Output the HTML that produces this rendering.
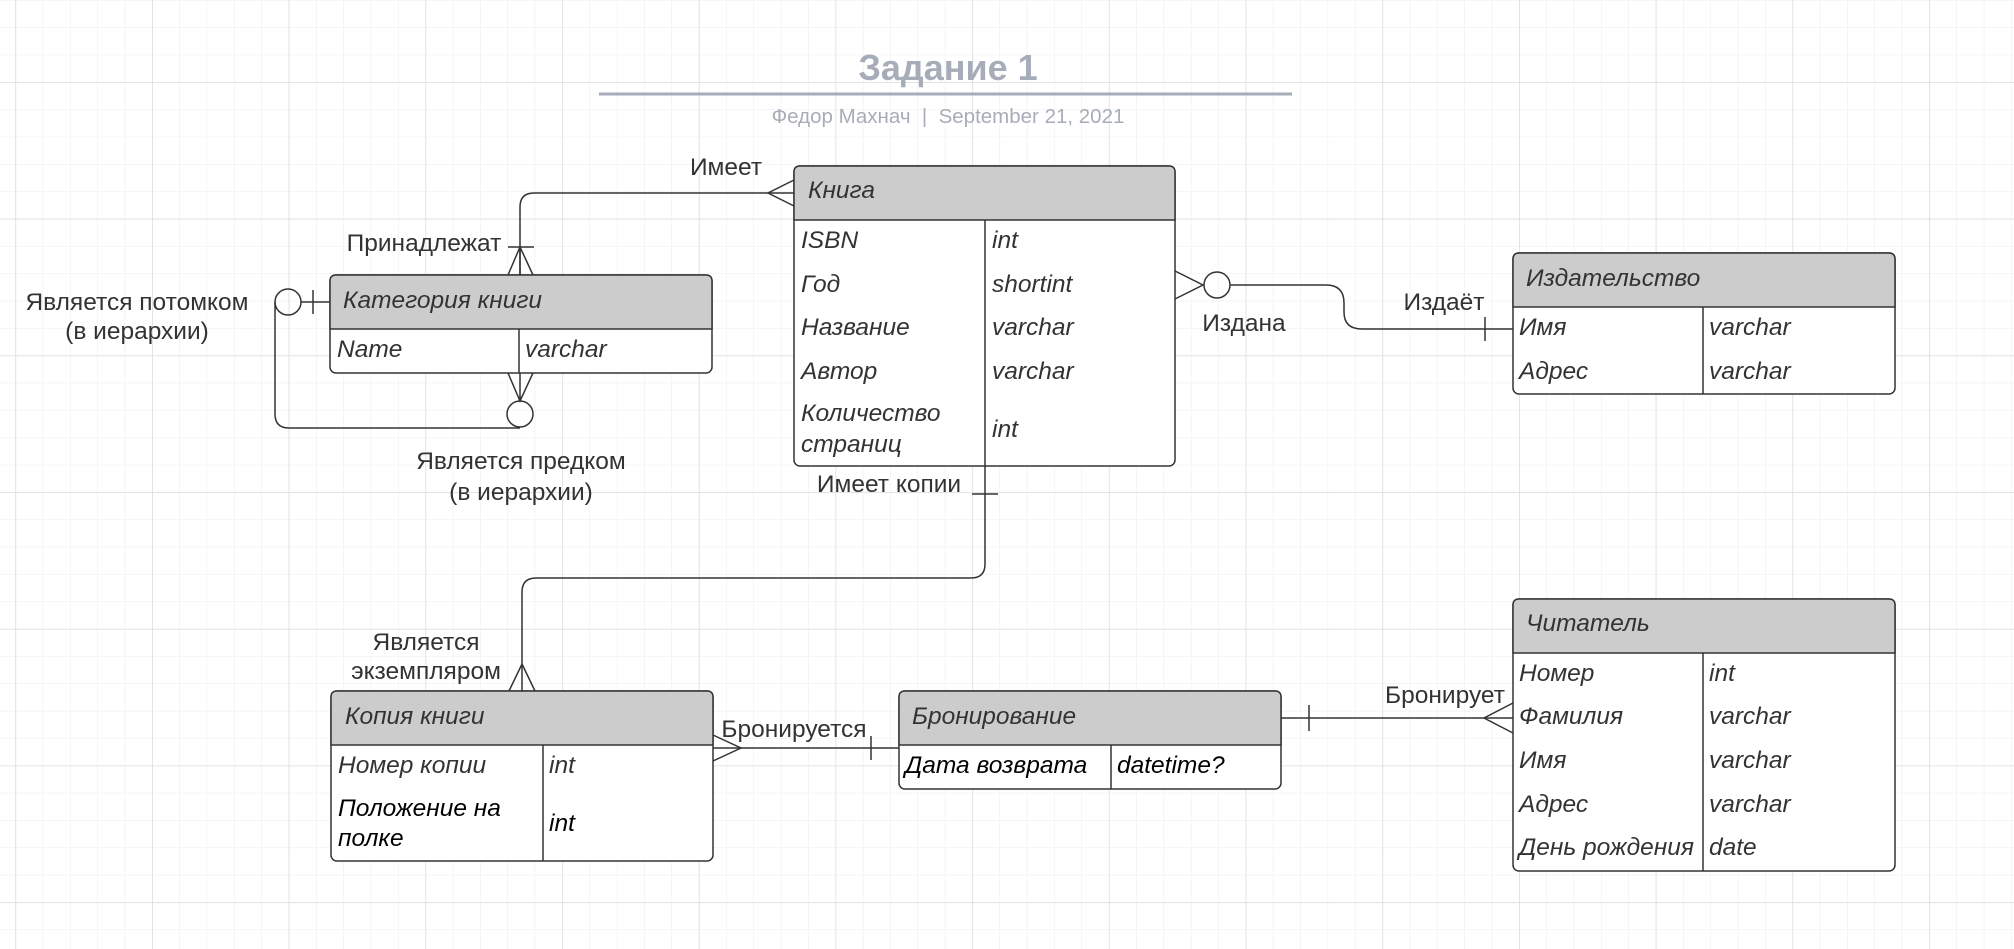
<!DOCTYPE html>
<html><head><meta charset="utf-8"><style>
html,body{margin:0;padding:0;background:#fff;}
svg{display:block;}
text{font-family:"Liberation Sans","DejaVu Sans",sans-serif;fill:#333;white-space:pre;}
.f{font-style:italic;font-size:24.5px;}
.l{font-size:24.5px;}
</style></head><body>
<svg width="2014" height="949" xmlns="http://www.w3.org/2000/svg">
<defs>
<pattern id="gm" x="15.3" y="0" width="27.34" height="27.34" patternUnits="userSpaceOnUse"><path d="M0 0V27.34M0 0H27.34" stroke="#ececec" stroke-width="1" fill="none"/></pattern>
<pattern id="gM" x="15.3" y="82" width="136.7" height="136.7" patternUnits="userSpaceOnUse"><path d="M0 0V136.7M0 0H136.7" stroke="#dcdcdc" stroke-width="1.5" fill="none"/></pattern>
</defs>
<rect width="2014" height="949" fill="url(#gm)"/>
<rect width="2014" height="949" fill="url(#gM)"/>

<text x="948" y="80" text-anchor="middle" style="font-size:36px;font-weight:bold;fill:#a7adb8">Задание 1</text>
<line x1="599" y1="94" x2="1292" y2="94" stroke="#a7adb8" stroke-width="3"/>
<text x="948" y="123" text-anchor="middle" xml:space="preserve" style="font-size:20.5px;fill:#a7adb8">Федор Махнач  |  September 21, 2021</text>

<g fill="none" stroke="#333" stroke-width="1.5">
<path d="M520 275 V207 Q520 193 534 193 H794"/>
<path d="M794 180 L768 193 L794 206"/>
<path d="M508 275 L520 247 L533 275 M508 247 H534 M520 247 V275"/>
<circle cx="288" cy="302" r="13"/>
<path d="M301 302 H330 M313 290 V314"/>
<path d="M275 302 V414 Q275 428 289 428 H520"/>
<circle cx="520" cy="414" r="13"/>
<path d="M508 373 L520 401 L533 373 M520 373 V401"/>
<path d="M1175 271 L1203 285 L1175 299"/>
<circle cx="1217" cy="285" r="13"/>
<path d="M1230 285 H1326 Q1344 285 1344 303 V312 Q1344 329 1362 329 H1513"/>
<path d="M1485 317 V341"/>
<path d="M985 466 V564 Q985 578 971 578 H536 Q522 578 522 592 V691"/>
<path d="M972 494 H998"/>
<path d="M509 691 L522 664 L535 691"/>
<path d="M713 748 H899"/>
<path d="M713 735 L741 748 L713 761"/>
<path d="M871 736 V760"/>
<path d="M1281 718 H1513"/>
<path d="M1309 705 V731"/>
<path d="M1513 703 L1484 718 L1513 733"/>
</g>

<g stroke="#333" stroke-width="1.5">
<rect x="794" y="166" width="381" height="300" rx="6" fill="#fff"/>
<path d="M800 166 H1169 Q1175 166 1175 172 V220 H794 V172 Q794 166 800 166Z" fill="#ccc"/>
<line x1="985" y1="220" x2="985" y2="466"/>
<rect x="330" y="275" width="382" height="98" rx="6" fill="#fff"/>
<path d="M336 275 H706 Q712 275 712 281 V329 H330 V281 Q330 275 336 275Z" fill="#ccc"/>
<line x1="519" y1="329" x2="519" y2="373"/>
<rect x="1513" y="253" width="382" height="141" rx="6" fill="#fff"/>
<path d="M1519 253 H1889 Q1895 253 1895 259 V307 H1513 V259 Q1513 253 1519 253Z" fill="#ccc"/>
<line x1="1703" y1="307" x2="1703" y2="394"/>
<rect x="1513" y="599" width="382" height="272" rx="6" fill="#fff"/>
<path d="M1519 599 H1889 Q1895 599 1895 605 V653 H1513 V605 Q1513 599 1519 599Z" fill="#ccc"/>
<line x1="1703" y1="653" x2="1703" y2="871"/>
<rect x="331" y="691" width="382" height="170" rx="6" fill="#fff"/>
<path d="M337 691 H707 Q713 691 713 697 V745 H331 V697 Q331 691 337 691Z" fill="#ccc"/>
<line x1="543" y1="745" x2="543" y2="861"/>
<rect x="899" y="691" width="382" height="98" rx="6" fill="#fff"/>
<path d="M905 691 H1275 Q1281 691 1281 697 V745 H899 V697 Q899 691 905 691Z" fill="#ccc"/>
<line x1="1111" y1="745" x2="1111" y2="789"/>
</g>

<g>
<text class="f" x="808" y="198">Книга</text>
<text class="f" x="801" y="248">ISBN</text><text class="f" x="992" y="248">int</text>
<text class="f" x="801" y="292">Год</text><text class="f" x="992" y="292">shortint</text>
<text class="f" x="801" y="335">Название</text><text class="f" x="992" y="335">varchar</text>
<text class="f" x="801" y="379">Автор</text><text class="f" x="992" y="379">varchar</text>
<text class="f" x="801" y="421">Количество</text><text class="f" x="801" y="452">страниц</text><text class="f" x="992" y="437">int</text>

<text class="f" x="343" y="308">Категория книги</text>
<text class="f" x="337" y="357">Name</text><text class="f" x="525" y="357">varchar</text>

<text class="f" x="1526" y="286">Издательство</text>
<text class="f" x="1519" y="335">Имя</text><text class="f" x="1709" y="335">varchar</text>
<text class="f" x="1519" y="379">Адрес</text><text class="f" x="1709" y="379">varchar</text>

<text class="f" x="1526" y="631">Читатель</text>
<text class="f" x="1519" y="681">Номер</text><text class="f" x="1709" y="681">int</text>
<text class="f" x="1519" y="724">Фамилия</text><text class="f" x="1709" y="724">varchar</text>
<text class="f" x="1519" y="768">Имя</text><text class="f" x="1709" y="768">varchar</text>
<text class="f" x="1519" y="812">Адрес</text><text class="f" x="1709" y="812">varchar</text>
<text class="f" x="1519" y="855">День рождения</text><text class="f" x="1709" y="855">date</text>

<text class="f" x="345" y="724">Копия книги</text>
<text class="f" x="338" y="773">Номер копии</text><text class="f" x="549" y="773">int</text>
<text class="f" x="338" y="816" style="fill:#000">Положение на</text><text class="f" x="338" y="846" style="fill:#000">полке</text><text class="f" x="549" y="831" style="fill:#000">int</text>

<text class="f" x="912" y="724">Бронирование</text>
<text class="f" x="905" y="773" style="fill:#000">Дата возврата</text><text class="f" x="1117" y="773" style="fill:#000">datetime?</text>
</g>

<text class="l" x="726" y="175" text-anchor="middle">Имеет</text>
<text class="l" x="424" y="251" text-anchor="middle">Принадлежат</text>
<text class="l" x="137" y="310" text-anchor="middle">Является потомком</text>
<text class="l" x="137" y="339" text-anchor="middle">(в иерархии)</text>
<text class="l" x="521" y="469" text-anchor="middle">Является предком</text>
<text class="l" x="521" y="500" text-anchor="middle">(в иерархии)</text>
<text class="l" x="1244" y="331" text-anchor="middle">Издана</text>
<text class="l" x="1444" y="310" text-anchor="middle">Издаёт</text>
<text class="l" x="889" y="492" text-anchor="middle">Имеет копии</text>
<text class="l" x="426" y="650" text-anchor="middle">Является</text>
<text class="l" x="426" y="679" text-anchor="middle">экземпляром</text>
<text class="l" x="794" y="737" text-anchor="middle">Бронируется</text>
<text class="l" x="1445" y="703" text-anchor="middle">Бронирует</text>
</svg>
</body></html>
